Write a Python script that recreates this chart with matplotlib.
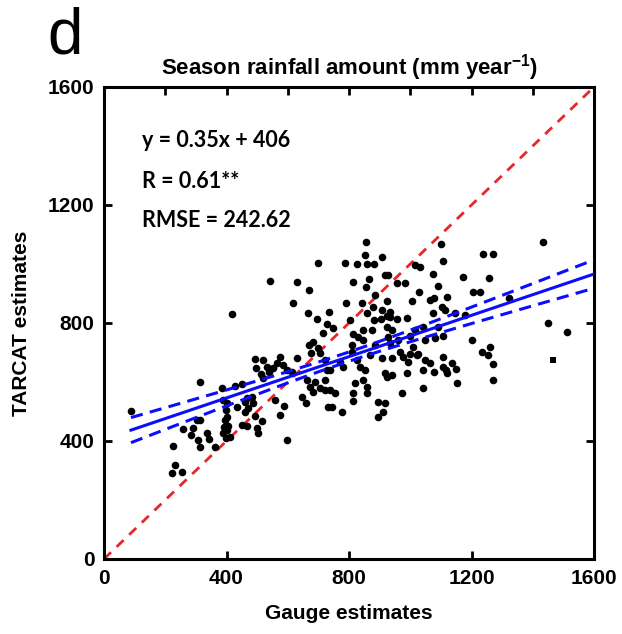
import numpy as np
import matplotlib
matplotlib.use('Agg')
import matplotlib.pyplot as plt
from matplotlib.ticker import MultipleLocator

# Gauge (x) vs TARCAT (y) season rainfall, mm year-1
gauge = [88, 225, 232, 222, 255, 258, 284, 291, 303, 313, 306, 313, 336, 343, 362, 313,
         385, 392, 389, 398, 395, 389, 398, 402, 411, 402, 402, 405, 418,
         428, 434, 451, 467, 460, 483, 487, 470, 460, 493, 467, 451, 500, 503, 516,
         493, 519, 496, 532, 539, 575, 565, 585, 552, 597, 614, 513, 519, 558, 588,
         575, 598, 542,
         617, 630, 670, 667, 695, 728, 715, 683, 670, 700, 676, 705, 630, 646, 660,
         662, 689, 673, 683, 705, 722, 731, 728, 699, 787, 735, 748, 722, 771, 738,
         780, 722, 738, 754, 744, 777, 790,
         856, 852, 826, 859, 882, 908, 813, 865, 918, 927, 957, 983, 856, 885, 924,
         843, 878, 908, 934, 859, 924, 803, 882, 904, 934, 957, 989, 846, 875, 924,
         940, 813, 829, 846, 927, 934, 960, 999, 810, 885, 810, 869, 967, 999, 826,
         908, 940, 976, 993, 836, 852, 918, 940, 989, 820, 846, 859, 924, 813, 859,
         973, 813, 895, 918, 911, 895,
         1006, 1100, 1238, 1270, 1107, 1016, 1032, 1074, 1172, 1257, 1091, 1029, 1205,
         1228, 1065, 1078, 1120, 1104, 1114, 1074, 1179, 1146, 1042, 1016, 1091, 1048,
         1081, 1107, 1202, 1009, 1022, 1234, 1260, 1254, 1107, 1048, 1065, 1107, 1136,
         1117, 1042, 1078, 1149, 1270, 1120, 1153, 1270, 1042, 1025, 1433, 1323, 1450,
         1512]
tarcat = [502, 383, 319, 291, 295, 440, 420, 444, 471, 471, 403, 380, 427, 407, 380, 600,
          580, 447, 539, 505, 471, 427, 410, 437, 414, 529, 481, 451, 830,
          586, 515, 593, 546, 532, 549, 529, 512, 498, 485, 451, 454, 444, 427, 468,
          678, 675, 647, 651, 634, 685, 664, 658, 647, 641, 634, 627, 614, 539, 519,
          488, 403, 942,
          868, 939, 912, 834, 813, 797, 766, 736, 725, 715, 698, 698, 681, 549, 529,
          607, 600, 583, 566, 580, 573, 515, 641, 1003, 1003, 837, 783, 675, 668, 641,
          651, 607, 573, 563, 515, 498, 868,
          1075, 1031, 1000, 1000, 1000, 1024, 939, 949, 963, 963, 936, 936, 922, 895, 875,
          868, 854, 844, 837, 834, 824, 810, 810, 813, 820, 813, 817, 776, 776, 786,
          776, 763, 753, 742, 753, 732, 742, 756, 725, 725, 702, 691, 702, 695, 675,
          681, 681, 685, 668, 651, 641, 631, 624, 631, 597, 607, 583, 617, 563, 563,
          563, 536, 532, 529, 498, 481,
          875, 1068, 1034, 1034, 1010, 997, 990, 966, 956, 953, 925, 905, 905,
          905, 878, 885, 888, 854, 844, 834, 827, 834, 786, 776, 786, 742,
          749, 756, 742, 719, 691, 702, 719, 691, 685, 675, 664, 651, 664,
          641, 641, 634, 644, 661, 631, 597, 607, 580, 695, 1075, 885, 800,
          769]
# one station drawn as a square
sq_gauge = [1466]
sq_tarcat = [675]

slope = 0.35
intercept = 406
ticks = [0, 400, 800, 1200, 1600]

x = np.array(gauge, float)
y = np.array(tarcat, float)

# regression line and confidence band
xl = np.linspace(x.min(), 1600, 100)
yl = slope*xl + intercept
n = len(x)
res = y - (slope*x + intercept)
s = np.sqrt(np.sum(res**2)/(n-2))
sxx = np.sum((x - x.mean())**2)
half = 1.7*s*np.sqrt(1.0/n + (xl - x.mean())**2/sxx)

plt.rcParams['font.family'] = ['Liberation Sans', 'DejaVu Sans']

fig = plt.figure(figsize=(6.22, 6.34), dpi=100)
ax = fig.add_axes([0.1672, 0.1183, 0.7878, 0.7445])

ax.plot([0, 1600], [0, 1600], color='#e8262a', lw=2.0, dashes=(3.5, 2.8), zorder=2)
ax.scatter(x, y, s=30, color='black', zorder=3, linewidths=0)
ax.scatter(sq_gauge, sq_tarcat, s=16, marker='s', color='black', zorder=3, linewidths=0)
ax.plot(xl, yl, color='#0c0cff', lw=2.2, zorder=4)
ax.plot(xl, yl + half, color='#0c0cff', lw=2.2, dashes=(4, 2.4), zorder=4)
ax.plot(xl, yl - half, color='#0c0cff', lw=2.2, dashes=(4, 2.4), zorder=4)

ax.set_xlim(0, 1600)
ax.set_ylim(0, 1600)
ax.set_xticks(ticks)
ax.set_yticks(ticks)
ax.xaxis.set_minor_locator(MultipleLocator(200))
ax.tick_params(which='major', direction='in', length=6, width=2, top=True, right=True,
               labelsize=15, pad=7)
ax.tick_params(which='minor', direction='in', length=6, width=2, bottom=False, top=True)
for lab in ax.get_xticklabels() + ax.get_yticklabels():
    lab.set_fontweight('bold')
for sp in ax.spines.values():
    sp.set_linewidth(2.2)

ax.set_xlabel('Gauge estimates', fontsize=15, fontweight='bold', labelpad=12)
ax.set_ylabel('TARCAT estimates', fontsize=15, fontweight='bold', labelpad=12)
ax.set_title('Season rainfall amount (mm year$^{\\mathregular{-1}}$)', fontsize=16,
             fontweight='bold', pad=9)

# fit statistics
ax.text(124, 1420, 'y = 0.35x + 406', fontsize=15.5, fontweight='bold', family='Lato', va='center')
ax.text(124, 1278, 'R = 0.61**', fontsize=15.5, fontweight='bold', family='Lato', va='center')
ax.text(124, 1149, 'RMSE = 242.62', fontsize=15.5, fontweight='bold', family='Lato', va='center')

fig.text(0.105, 0.943, 'd', fontsize=46, ha='center', va='center')

plt.savefig('out.png', dpi=100)
